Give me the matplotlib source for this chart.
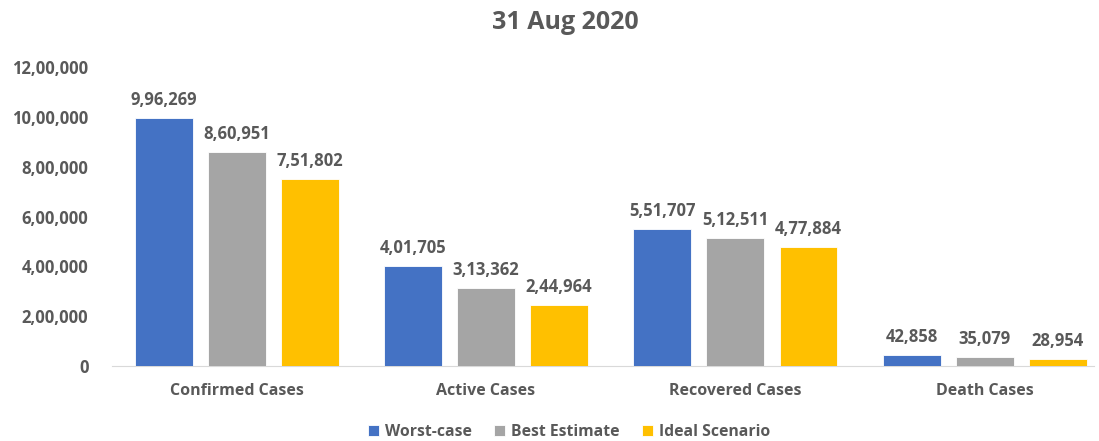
import numpy as np
import matplotlib.pyplot as plt
from matplotlib.ticker import FuncFormatter

categories = ['Confirmed Cases', 'Active Cases', 'Recovered Cases', 'Death Cases']
series_names = ['Worst-case', 'Best Estimate', 'Ideal Scenario']
worst_case = [996269, 401705, 551707, 42858]
best_estimate = [860951, 313362, 512511, 35079]
ideal_scenario = [751802, 244964, 477884, 28954]
y_ticks = [0, 200000, 400000, 600000, 800000, 1000000, 1200000]

colors = ['#4472C4', '#A5A5A5', '#FFC000']
text_color = '#595959'
plt.rcParams['font.family'] = ['Open Sans', 'DejaVu Sans']


# 印度数字格式：12,00,000
def indian_format(v):
    s = str(int(round(v)))
    if len(s) <= 3:
        return s
    last3 = s[-3:]
    rest = s[:-3]
    groups = []
    while len(rest) > 2:
        groups.insert(0, rest[-2:])
        rest = rest[:-2]
    if rest:
        groups.insert(0, rest)
    return ','.join(groups) + ',' + last3


fig = plt.figure(figsize=(10.99, 4.41), dpi=100)
ax = fig.add_axes([0.1019, 0.170, 0.894, 0.678])

x = np.arange(len(categories))
pitch = 0.293
width = 0.232
all_series = [worst_case, best_estimate, ideal_scenario]
for i, (vals, name) in enumerate(zip(all_series, series_names)):
    pos = x + (i - 1) * pitch
    bars = ax.bar(pos, vals, width=width, color=colors[i], label=name,
                  edgecolor='white', linewidth=0.6, zorder=3)
    for b, v in zip(bars, vals):
        ax.text(b.get_x() + b.get_width() / 2, v + 36000, indian_format(v),
                ha='center', va='bottom', fontsize=12, fontweight='bold', color=text_color)

ax.set_xlim(-0.5, 3.44)
ax.set_ylim(0, 1200000)
ax.set_yticks(y_ticks)
ax.yaxis.set_major_formatter(FuncFormatter(lambda v, p: indian_format(v)))
ax.set_xticks(x)
ax.set_xticklabels(categories)
for lab in ax.get_xticklabels():
    lab.set_fontweight('bold')
    lab.set_fontsize(11.5)
    lab.set_color(text_color)
for lab in ax.get_yticklabels():
    lab.set_fontweight('bold')
    lab.set_fontsize(12)
    lab.set_color(text_color)
ax.tick_params(axis='both', length=0)
ax.tick_params(axis='x', pad=12)
ax.tick_params(axis='y', pad=17)

for side in ['top', 'right', 'left']:
    ax.spines[side].set_visible(False)
ax.spines['bottom'].set_color('#D9D9D9')

fig.text(0.514, 0.948, '31 Aug 2020', ha='center', va='center', fontsize=18,
         fontweight='bold', color=text_color)

leg = fig.legend(loc='center', bbox_to_anchor=(0.518, 0.02), ncol=3, frameon=False,
                 handlelength=0.7, handleheight=0.7, handletextpad=0.4, columnspacing=1.4,
                 prop={'weight': 'bold', 'size': 11.3})
for t in leg.get_texts():
    t.set_color(text_color)

plt.savefig('out.png', dpi=100)
plt.close()
